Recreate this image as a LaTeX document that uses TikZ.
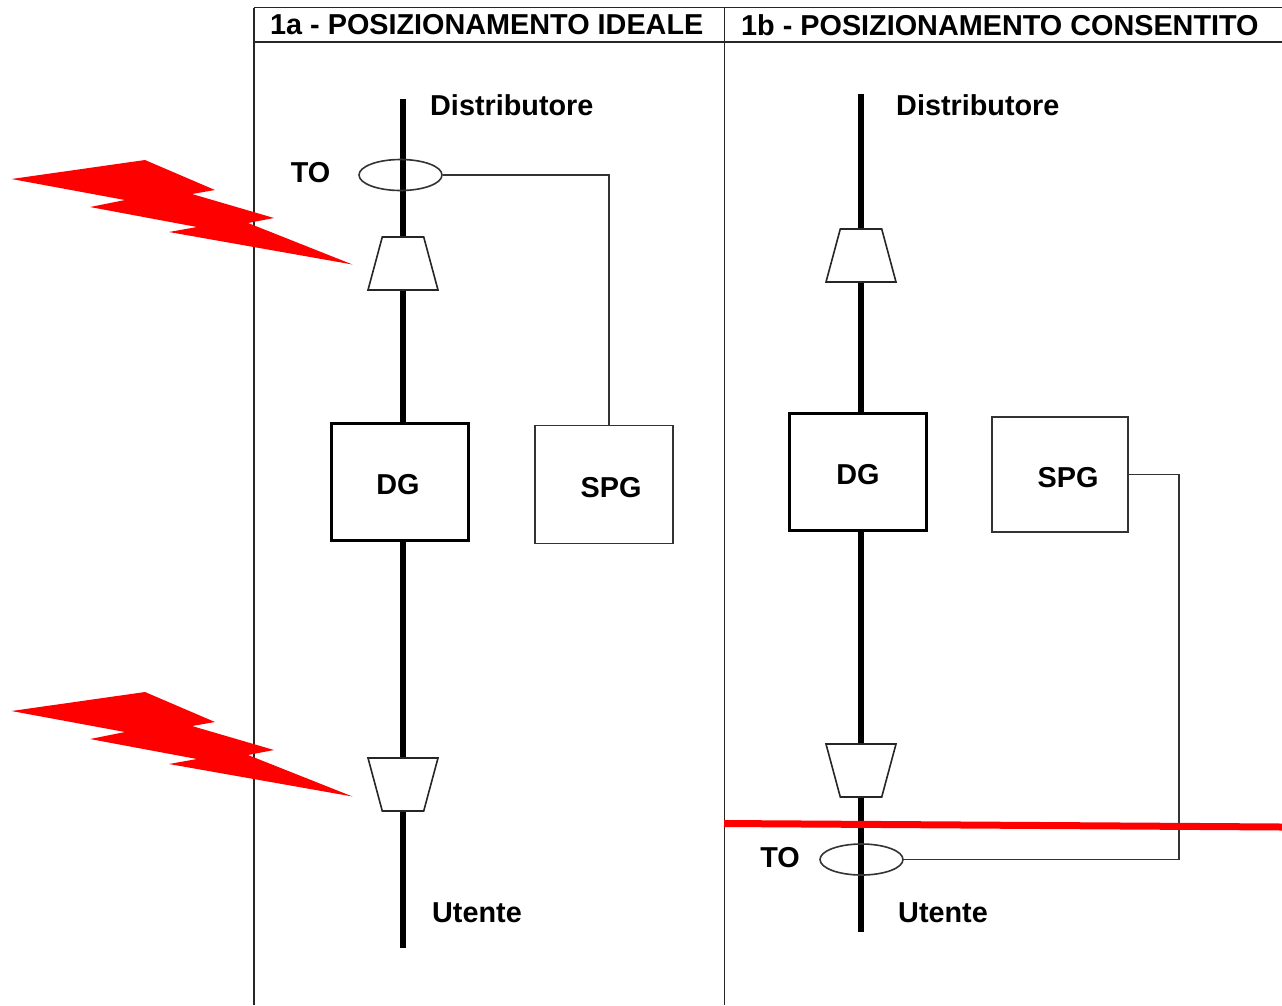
\documentclass[tikz,border=0pt]{standalone}
\usepackage{fontspec}
\setmainfont{Liberation Sans}
\usetikzlibrary{positioning,calc,shapes.geometric}

\begin{document}
\begin{tikzpicture}[
  x=1pt, y=-1pt,
  frame line/.style={draw=black!85, line width=1.7pt},
  feed line/.style={draw=black, line width=6.5pt},
  thin link/.style={draw=black!80, line width=1.6pt},
  heading/.style={font=\fontsize{28.8}{32}\selectfont\bfseries, anchor=west, inner sep=0pt},
  tag/.style={font=\fontsize{28.8}{32}\selectfont\bfseries, inner sep=0pt},
  gen box/.style={draw=black, line width=3pt, fill=white, minimum width=136.5pt, minimum height=117pt, inner sep=0pt},
  prot box/.style={draw=black!80, line width=1.6pt, fill=white, inner sep=0pt},
  ct ring/.style={ellipse, draw=black!80, line width=1.6pt, minimum width=83pt, minimum height=31pt, inner sep=0pt},
  transf up/.style={trapezium, trapezium stretches=true, trapezium left angle=71, trapezium right angle=71, draw=black!85, line width=1.6pt, fill=white, minimum width=70pt, minimum height=53pt, inner sep=1pt},
  transf down/.style={transf up, shape border rotate=180},
  bolt/.style={fill=red},
  cut line/.style={draw=red, line width=7pt}
]
\useasboundingbox (0,0) rectangle (1282,1005);

% table frame
\coordinate (ftl) at (254,7.5);
\coordinate (ftr) at (1282,7.5);
\coordinate (fhl) at (254,42);
\coordinate (fhr) at (1282,42);
\coordinate (fbl) at (254,1005);
\coordinate (fml) at (724.5,7.5);
\coordinate (fmb) at (724.5,1005);
\draw[frame line] (ftl) -- (ftr);
\draw[frame line] (fhl) -- (fhr);
\draw[frame line] (ftl) -- (fbl);
\draw[frame line] (fml) -- (fmb);

\node[heading] (title1) at (270,25) {1a - POSIZIONAMENTO IDEALE};
\node[heading] (title2) at (741,25) {1b - POSIZIONAMENTO CONSENTITO};

% 1a
\coordinate (top1) at (403,99);
\coordinate (bot1) at (403,948);
\node[transf up] (tu1) at (403,263.5) {};
\node[gen box] (dg1) at (400,482) {};
\node[transf down] (td1) at (403,784.5) {};
\node[prot box, minimum width=138pt, minimum height=118pt] (spg1) at (604,484.5) {};
\draw[feed line] (top1) -- (tu1.north);
\draw[feed line] (tu1.south) -- (dg1.north -| tu1.south);
\draw[feed line] (dg1.south -| td1.north) -- (td1.north);
\draw[feed line] (td1.south) -- (bot1);
\node[ct ring] (to1) at (400.5,175) {};
\draw[thin link] (to1.east) -| ($(spg1.north)+(5,0)$);

\node[heading] (dist1) at (430,105) {Distributore};
\node[heading] (ute1) at (432,913) {Utente};
\node[tag] (tolab1) at (310.5,173) {TO};
\node[tag] (dglab1) at (398,485) {DG};
\node[tag] (spglab1) at (611,488) {SPG};

% 1b
\coordinate (top2) at (861,94);
\coordinate (bot2) at (861,932);
\node[transf up] (tu2) at (861,255.5) {};
\node[gen box] (dg2) at (858,471.5) {};
\node[transf down] (td2) at (861,770.5) {};
\node[prot box, minimum width=136pt, minimum height=115pt] (spg2) at (1060,474.5) {};
\draw[feed line] (top2) -- (tu2.north);
\draw[feed line] (tu2.south) -- (dg2.north -| tu2.south);
\draw[feed line] (dg2.south -| td2.north) -- (td2.north);
\draw[feed line] (td2.south) -- (bot2);
\node[ct ring] (to2) at (861.5,859.5) {};
\coordinate (bend2) at (1179,474.5);
\draw[thin link] (spg2.east) -- (bend2) |- (to2.east);

\node[heading] (dist2) at (896,105) {Distributore};
\node[heading] (ute2) at (898,913) {Utente};
\node[tag] (tolab2) at (780,858) {TO};
\node[tag] (dglab2) at (858,475) {DG};
\node[tag] (spglab2) at (1068,478) {SPG};

% fulmini
\foreach \dy in {0,532} {
  \fill[bolt, yshift=-\dy pt] (11.5,179) -- (145,160) -- (215,190) -- (192,194) -- (274,218) -- (248,223)
    -- (352.5,264.5) -- (169,232) -- (197,227) -- (90,207) -- (125,200) -- cycle;
}

% linea rossa
\coordinate (cutl) at (724,823.5);
\coordinate (cutr) at (1282,827);
\draw[cut line] (cutl) -- (cutr);
\end{tikzpicture}
\end{document}
